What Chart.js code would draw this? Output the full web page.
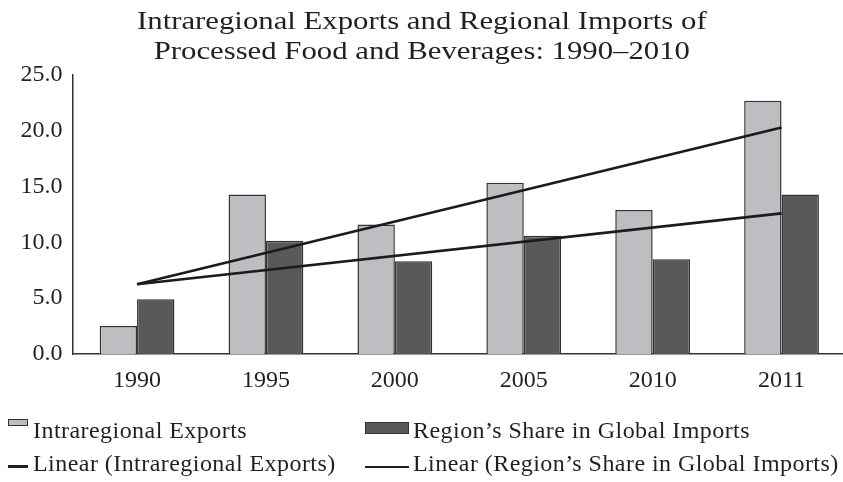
<!DOCTYPE html>
<html lang="en">
<head>
<meta charset="UTF-8">
<title>Intraregional Exports and Regional Imports</title>
<script src="https://cdn.jsdelivr.net/npm/chart.js"></script>
<style>
  html,body{margin:0;padding:0;background:#fff;overflow:hidden;}
  .wrap{position:relative;width:846px;height:482px;font-family:'Liberation Serif','DejaVu Serif',serif;color:#231f20;}
  canvas{position:absolute;left:0;top:0;}
  .title{position:absolute;left:0;width:843px;top:6px;text-align:center;font-size:25px;line-height:30px;transform:scaleX(1.23);transform-origin:420px 0;}
  .lg{position:absolute;font-size:24px;line-height:24px;white-space:nowrap;letter-spacing:0.45px;}
  .sw{position:absolute;box-sizing:border-box;}
</style>
</head>
<body>
<div class="wrap">
  <canvas id="chart" width="846" height="482"></canvas>
  <div class="title">Intraregional Exports and Regional Imports of<br>Processed Food and Beverages: 1990–2010</div>

  <div class="sw" style="left:8px;top:419px;width:20px;height:7px;background:#bdbec2;border:1.5px solid #333;"></div>
  <div class="lg" style="left:33px;top:418px;">Intraregional Exports</div>
  <div class="sw" style="left:365px;top:422px;width:44px;height:12px;background:#58595b;border:1.5px solid #333;"></div>
  <div class="lg" style="left:413px;top:418px;">Region’s Share in Global Imports</div>

  <div class="sw" style="left:8px;top:465px;width:20px;height:3px;background:#231f20;"></div>
  <div class="lg" style="left:33px;top:451px;">Linear (Intraregional Exports)</div>
  <div class="sw" style="left:365px;top:466px;width:44px;height:2px;background:#231f20;"></div>
  <div class="lg" style="left:413px;top:451px;">Linear (Region’s Share in Global Imports)</div>
</div>
<script>
const years = ['1990', '1995', '2000', '2005', '2010', '2011'];
const exportsShare = [2.5, 14.3, 11.6, 15.35, 12.9, 22.7];
const importsShare = [4.9, 10.15, 8.3, 10.6, 8.5, 14.3];
// trend line end points
const exportsTrend = [6.25, null, null, null, null, 20.3];
const importsTrend = [6.25, null, null, null, null, 12.6];
const yTicks = [0, 5, 10, 15, 20, 25];

const serif = "'Liberation Serif', 'DejaVu Serif', serif";

new Chart(document.getElementById('chart'), {
  type: 'bar',
  data: {
    labels: years,
    datasets: [
      { type: 'line', label: 'Linear (Intraregional Exports)', data: exportsTrend, spanGaps: true, borderColor: '#1d1a1b', borderWidth: 2.6, pointRadius: 0, order: 0 },
      { type: 'line', label: 'Linear (Region’s Share in Global Imports)', data: importsTrend, spanGaps: true, borderColor: '#1d1a1b', borderWidth: 2.6, pointRadius: 0, order: 0 },
      { label: 'Intraregional Exports', data: exportsShare, backgroundColor: '#bdbec2', borderColor: '#333', borderWidth: 1.5, order: 1 },
      { label: 'Region’s Share in Global Imports', data: importsShare, backgroundColor: '#58595b', borderColor: '#333', borderWidth: 1.5, order: 1 }
    ]
  },
  options: {
    responsive: false,
    animation: false,
    layout: { padding: { top: 75, left: 0, right: 0, bottom: 0 } },
    datasets: { bar: { categoryPercentage: 0.58, barPercentage: 1.0 } },
    plugins: { legend: { display: false }, title: { display: false }, tooltip: { enabled: false } },
    scales: {
      x: {
        grid: { display: false, drawTicks: false },
        border: { display: true, color: '#333', width: 1.5 },
        ticks: { color: '#231f20', padding: 12, font: { family: serif, size: 24 } },
        afterFit: s => { s.height = 128; }
      },
      y: {
        min: 0, max: 25,
        grid: { display: false, drawTicks: false },
        border: { display: true, color: '#333', width: 1.5 },
        afterBuildTicks: s => { s.ticks = yTicks.map(v => ({ value: v })); },
        ticks: { color: '#231f20', padding: 10, font: { family: serif, size: 24 }, callback: v => v.toFixed(1) },
        afterFit: s => { s.width = 72.6; }
      }
    }
  }
});
</script>
</body>
</html>
